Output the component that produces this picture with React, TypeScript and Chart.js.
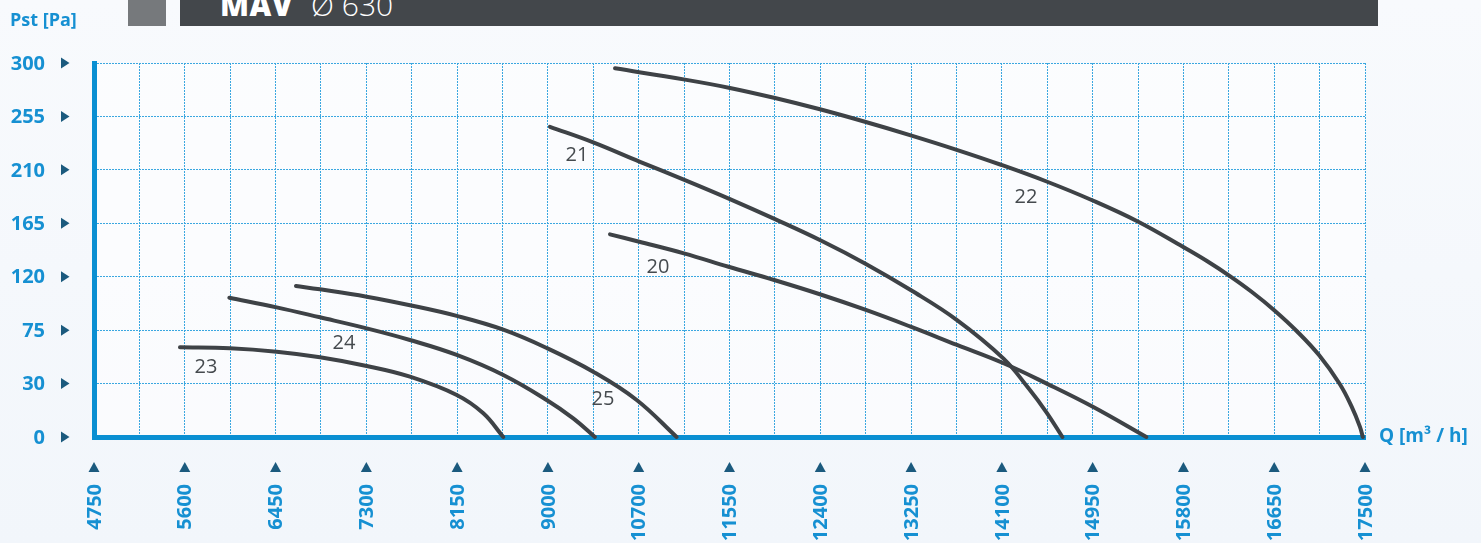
import { useEffect, useRef } from 'react';
import { Chart, registerables } from 'chart.js';

Chart.register(...registerables);

// Axis tick labels as printed on the chart
const X_LABELS = ['4750', '5600', '6450', '7300', '8150', '9000', '10700', '11550', '12400', '13250', '14100', '14950', '15800', '16650', '17500'];
const Y_LABELS = ['0', '30', '75', '120', '165', '210', '255', '300'];
const X_MIN = 4750;
const X_STEP = 850;
const Y_STEP = 45;

// Fan curves (Q [m3/h], Pst [Pa])
const C20_X = [9581, 9855, 10273, 10691, 11126, 11560, 11977, 12396, 12830, 13266, 13666, 14102, 14603];
const C20_Y = [170.7, 164.5, 154.7, 143.4, 132.0, 119.8, 107.0, 92.9, 77.5, 62.1, 45.2, 25.5, 0];

const C21_X = [9019, 9424, 9862, 10283, 10704, 11126, 11560, 11977, 12396, 12830, 13266, 13500, 13666, 13817];
const C21_Y = [261.3, 248.2, 231.8, 216.4, 200.4, 183.5, 165.3, 145.8, 123.8, 98.5, 66.0, 41.0, 21.0, 0];

const C22_X = [9628, 10283, 10704, 11126, 11547, 11968, 12389, 12827, 13248, 13669, 14090, 14527, 14948, 15170, 15385, 15591, 15800, 16010, 16221, 16415, 16525, 16602, 16630];
const C22_Y = [310.5, 301.0, 294.0, 285.5, 276.0, 265.5, 254.3, 241.9, 229.1, 215.2, 199.6, 181.3, 160.0, 148.2, 135.5, 122.1, 106.8, 89.3, 68.8, 44.4, 25.5, 8.7, 0];

const C23_X = [5555, 6023, 6460, 6866, 7303, 7708, 8146, 8395, 8582];
const C23_Y = [75.5, 74.7, 71.8, 67.1, 59.8, 50.8, 35.4, 20.0, 0];

const C24_X = [6017, 6460, 6866, 7303, 7708, 8146, 8582, 8988, 9237, 9440];
const C24_Y = [117.3, 109.2, 100.8, 91.5, 81.7, 69.1, 52.2, 31.2, 15.7, 0];

const C25_X = [6641, 6866, 7303, 7708, 8146, 8582, 8988, 9424, 9831, 10205];
const C25_Y = [127.2, 124.4, 118.2, 111.0, 102.0, 90.4, 75.0, 55.0, 31.2, 0];

const CURVE_NAMES = ['20', '21', '22', '23', '24', '25'];
const CURVE_XS = [C20_X, C21_X, C22_X, C23_X, C24_X, C25_X];
const CURVE_YS = [C20_Y, C21_Y, C22_Y, C23_Y, C24_Y, C25_Y];
// Curve name label anchor positions (data units)
const NAME_X = [10030, 9272, 13475, 5799, 7091, 9515];
const NAME_Y = [143.2, 237.5, 202.1, 59.0, 79.2, 32.0];

const BLUE = '#1690d2';
const NAVY = '#1b5a7e';
const CURVE = '#3e4246';
const GRID = '#3aa7e0';
const FONT = '"Open Sans", "Noto Sans", sans-serif';

const X_MAX = X_MIN + (X_LABELS.length - 1) * X_STEP;
const Y_MAX = (Y_LABELS.length - 1) * Y_STEP;

const decorPlugin = {
  id: 'decor',
  beforeDraw(chart: any) {
    const { ctx, chartArea: a } = chart;
    ctx.save();
    ctx.fillStyle = 'rgba(255,255,255,0.55)';
    ctx.fillRect(a.left, a.top, a.right - a.left, a.bottom - a.top);
    ctx.restore();
  },
  afterDraw(chart: any) {
    const { ctx, chartArea: a, scales } = chart;
    const xs = scales.x;
    const ys = scales.y;
    ctx.save();
    // Y tick labels + triangles
    ctx.font = `700 20px ${FONT}`;
    Y_LABELS.forEach((lab, i) => {
      const py = ys.getPixelForValue(i * Y_STEP);
      ctx.fillStyle = BLUE;
      ctx.textAlign = 'right';
      ctx.textBaseline = 'middle';
      ctx.fillText(lab, a.left - 49, py + 1);
      ctx.fillStyle = NAVY;
      ctx.beginPath();
      ctx.moveTo(a.left - 33, py - 5.5);
      ctx.lineTo(a.left - 24.5, py);
      ctx.lineTo(a.left - 33, py + 5.5);
      ctx.closePath();
      ctx.fill();
    });
    // X tick labels + triangles
    X_LABELS.forEach((lab, i) => {
      const px = xs.getPixelForValue(X_MIN + i * X_STEP);
      ctx.fillStyle = NAVY;
      ctx.beginPath();
      ctx.moveTo(px - 5.5, a.bottom + 35);
      ctx.lineTo(px, a.bottom + 25);
      ctx.lineTo(px + 5.5, a.bottom + 35);
      ctx.closePath();
      ctx.fill();
      ctx.save();
      ctx.translate(px + 1, a.bottom + 47);
      ctx.rotate(-Math.PI / 2);
      ctx.fillStyle = BLUE;
      ctx.textAlign = 'right';
      ctx.textBaseline = 'middle';
      ctx.fillText(lab, 0, 0);
      ctx.restore();
    });
    // Axis titles
    ctx.fillStyle = BLUE;
    ctx.font = `700 18px ${FONT}`;
    ctx.textAlign = 'left';
    ctx.textBaseline = 'alphabetic';
    ctx.fillText('Pst [Pa]', 10, 26);
    ctx.textBaseline = 'middle';
    ctx.font = `700 19px ${FONT}`;
    ctx.fillText('Q [m³ / h]', a.right + 14, a.bottom);
    // Curve names
    ctx.fillStyle = '#454a4e';
    ctx.font = `400 20px ${FONT}`;
    ctx.textAlign = 'center';
    ctx.textBaseline = 'middle';
    CURVE_NAMES.forEach((n, i) => {
      ctx.fillText(n, xs.getPixelForValue(NAME_X[i]), ys.getPixelForValue(NAME_Y[i]));
    });
    ctx.restore();
  },
};

export default function App() {
  const ref = useRef<HTMLCanvasElement | null>(null);

  useEffect(() => {
    if (!ref.current) return;
    const datasets = CURVE_NAMES.map((name, i) => ({
      label: name,
      data: CURVE_XS[i].map((x, j) => ({ x, y: CURVE_YS[i][j] })),
      borderColor: CURVE,
      borderWidth: 4,
      borderCapStyle: 'round' as const,
      borderJoinStyle: 'round' as const,
      pointRadius: 0,
      fill: false,
      tension: 0.4,
      clip: false as any,
    }));
    const gridCfg = { color: GRID, lineWidth: 1, drawTicks: false };
    const borderCfg = { display: true, color: '#0a8fd2', width: 5, dash: [2, 1] };
    const chart = new Chart(ref.current, {
      type: 'line',
      data: { datasets },
      options: {
        animation: false,
        responsive: true,
        maintainAspectRatio: false,
        layout: { padding: { left: 94, top: 63, right: 116, bottom: 106 } },
        plugins: { legend: { display: false }, tooltip: { enabled: false } },
        scales: {
          x: {
            type: 'linear',
            min: X_MIN,
            max: X_MAX,
            afterBuildTicks: (scale: any) => {
              const t = [];
              for (let v = X_MIN; v <= X_MAX + 0.1; v += X_STEP / 2) t.push({ value: v });
              scale.ticks = t;
            },
            ticks: { display: false },
            grid: gridCfg,
            border: borderCfg,
          },
          y: {
            type: 'linear',
            min: 0,
            max: Y_MAX,
            afterBuildTicks: (scale: any) => {
              const t = [];
              for (let v = 0; v <= Y_MAX + 0.1; v += Y_STEP) t.push({ value: v });
              scale.ticks = t;
            },
            ticks: { display: false },
            grid: gridCfg,
            border: borderCfg,
          },
        },
      },
      plugins: [decorPlugin],
    });
    return () => chart.destroy();
  }, []);

  return (
    <div
      style={{
        position: 'fixed',
        left: 0,
        top: 0,
        width: 1481,
        height: 543,
        overflow: 'hidden',
        background: 'linear-gradient(180deg, #f8fafd 0%, #f2f6fb 100%)',
        fontFamily: FONT,
      }}
    >
      <div style={{ position: 'absolute', left: 128, top: 0, width: 38, height: 26, background: '#76797c' }} />
      <div style={{ position: 'absolute', left: 180, top: 0, width: 1198, height: 26, background: '#43474b', overflow: 'hidden' }}>
        <div
          style={{
            position: 'absolute',
            left: 40,
            top: -10,
            lineHeight: '30px',
            fontSize: 30,
            color: '#ffffff',
            whiteSpace: 'nowrap',
          }}
        >
          <span style={{ fontWeight: 800, letterSpacing: 0.5 }}>MAV</span>
          <span style={{ fontWeight: 300, marginLeft: 18 }}>Ø 630</span>
        </div>
      </div>
      <canvas ref={ref} style={{ position: 'absolute', left: 0, top: 0, width: 1481, height: 543 }} />
    </div>
  );
}
